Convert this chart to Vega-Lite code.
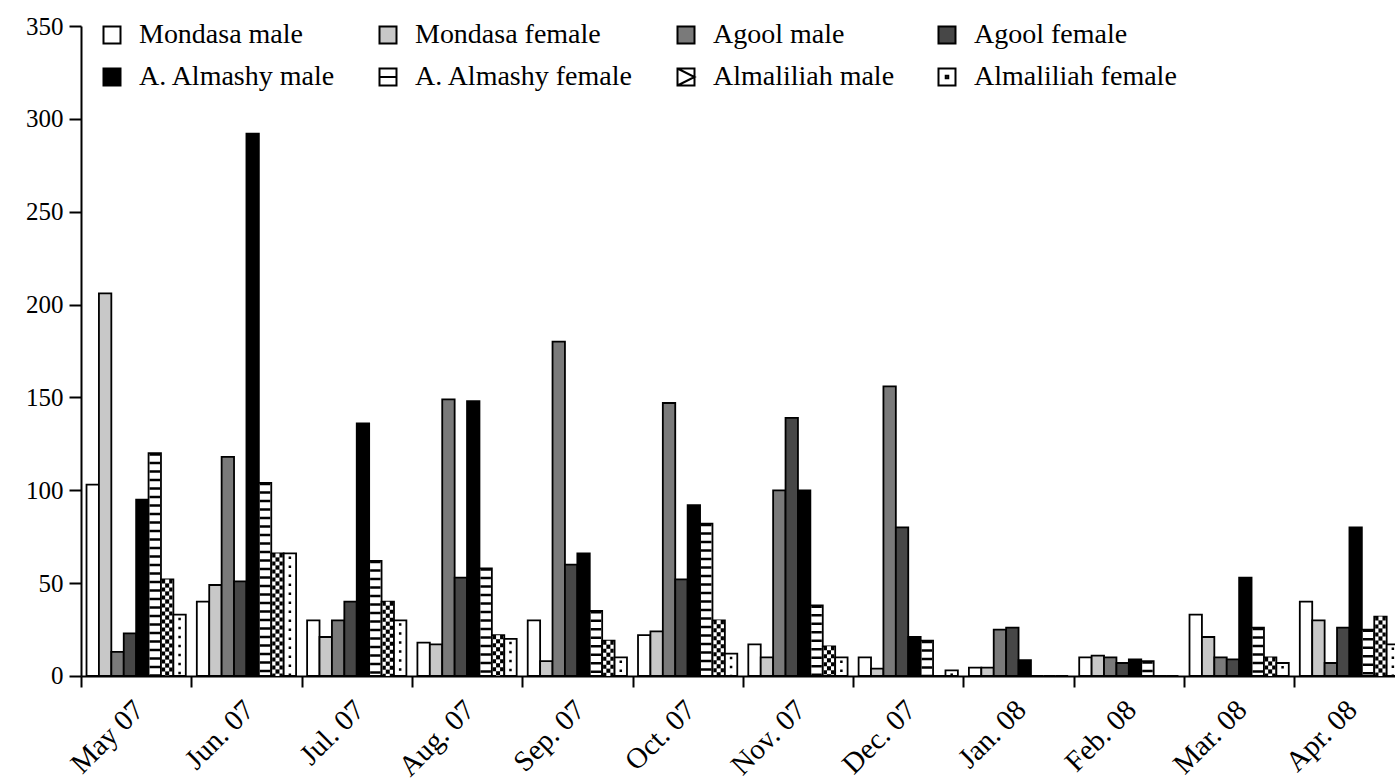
{
  "$schema": "https://vega.github.io/schema/vega-lite/v6.json",
  "width": 1323.6,
  "height": 650,
  "autosize": {"type": "none"},
  "padding": {"left": 81, "top": 26, "right": 0, "bottom": 105},
  "background": "white",
  "config": {"view": {"stroke": null}, "font": "Liberation Serif"},
  "data": {"values": [
    {"month": "May 07", "series": "Mondasa male", "value": 103},
    {"month": "May 07", "series": "Mondasa female", "value": 206},
    {"month": "May 07", "series": "Agool male", "value": 13},
    {"month": "May 07", "series": "Agool female", "value": 23},
    {"month": "May 07", "series": "A. Almashy male", "value": 95},
    {"month": "May 07", "series": "A. Almashy female", "value": 120},
    {"month": "May 07", "series": "Almaliliah male", "value": 52},
    {"month": "May 07", "series": "Almaliliah female", "value": 33},
    {"month": "Jun. 07", "series": "Mondasa male", "value": 40},
    {"month": "Jun. 07", "series": "Mondasa female", "value": 49},
    {"month": "Jun. 07", "series": "Agool male", "value": 118},
    {"month": "Jun. 07", "series": "Agool female", "value": 51},
    {"month": "Jun. 07", "series": "A. Almashy male", "value": 292},
    {"month": "Jun. 07", "series": "A. Almashy female", "value": 104},
    {"month": "Jun. 07", "series": "Almaliliah male", "value": 66},
    {"month": "Jun. 07", "series": "Almaliliah female", "value": 66},
    {"month": "Jul. 07", "series": "Mondasa male", "value": 30},
    {"month": "Jul. 07", "series": "Mondasa female", "value": 21},
    {"month": "Jul. 07", "series": "Agool male", "value": 30},
    {"month": "Jul. 07", "series": "Agool female", "value": 40},
    {"month": "Jul. 07", "series": "A. Almashy male", "value": 136},
    {"month": "Jul. 07", "series": "A. Almashy female", "value": 62},
    {"month": "Jul. 07", "series": "Almaliliah male", "value": 40},
    {"month": "Jul. 07", "series": "Almaliliah female", "value": 30},
    {"month": "Aug. 07", "series": "Mondasa male", "value": 18},
    {"month": "Aug. 07", "series": "Mondasa female", "value": 17},
    {"month": "Aug. 07", "series": "Agool male", "value": 149},
    {"month": "Aug. 07", "series": "Agool female", "value": 53},
    {"month": "Aug. 07", "series": "A. Almashy male", "value": 148},
    {"month": "Aug. 07", "series": "A. Almashy female", "value": 58},
    {"month": "Aug. 07", "series": "Almaliliah male", "value": 22},
    {"month": "Aug. 07", "series": "Almaliliah female", "value": 20},
    {"month": "Sep. 07", "series": "Mondasa male", "value": 30},
    {"month": "Sep. 07", "series": "Mondasa female", "value": 8},
    {"month": "Sep. 07", "series": "Agool male", "value": 180},
    {"month": "Sep. 07", "series": "Agool female", "value": 60},
    {"month": "Sep. 07", "series": "A. Almashy male", "value": 66},
    {"month": "Sep. 07", "series": "A. Almashy female", "value": 35},
    {"month": "Sep. 07", "series": "Almaliliah male", "value": 19},
    {"month": "Sep. 07", "series": "Almaliliah female", "value": 10},
    {"month": "Oct. 07", "series": "Mondasa male", "value": 22},
    {"month": "Oct. 07", "series": "Mondasa female", "value": 24},
    {"month": "Oct. 07", "series": "Agool male", "value": 147},
    {"month": "Oct. 07", "series": "Agool female", "value": 52},
    {"month": "Oct. 07", "series": "A. Almashy male", "value": 92},
    {"month": "Oct. 07", "series": "A. Almashy female", "value": 82},
    {"month": "Oct. 07", "series": "Almaliliah male", "value": 30},
    {"month": "Oct. 07", "series": "Almaliliah female", "value": 12},
    {"month": "Nov. 07", "series": "Mondasa male", "value": 17},
    {"month": "Nov. 07", "series": "Mondasa female", "value": 10},
    {"month": "Nov. 07", "series": "Agool male", "value": 100},
    {"month": "Nov. 07", "series": "Agool female", "value": 139},
    {"month": "Nov. 07", "series": "A. Almashy male", "value": 100},
    {"month": "Nov. 07", "series": "A. Almashy female", "value": 38},
    {"month": "Nov. 07", "series": "Almaliliah male", "value": 16},
    {"month": "Nov. 07", "series": "Almaliliah female", "value": 10},
    {"month": "Dec. 07", "series": "Mondasa male", "value": 10},
    {"month": "Dec. 07", "series": "Mondasa female", "value": 4},
    {"month": "Dec. 07", "series": "Agool male", "value": 156},
    {"month": "Dec. 07", "series": "Agool female", "value": 80},
    {"month": "Dec. 07", "series": "A. Almashy male", "value": 21},
    {"month": "Dec. 07", "series": "A. Almashy female", "value": 19},
    {"month": "Dec. 07", "series": "Almaliliah male", "value": 0},
    {"month": "Dec. 07", "series": "Almaliliah female", "value": 3},
    {"month": "Jan. 08", "series": "Mondasa male", "value": 4.5},
    {"month": "Jan. 08", "series": "Mondasa female", "value": 4.5},
    {"month": "Jan. 08", "series": "Agool male", "value": 25},
    {"month": "Jan. 08", "series": "Agool female", "value": 26},
    {"month": "Jan. 08", "series": "A. Almashy male", "value": 8.5},
    {"month": "Jan. 08", "series": "A. Almashy female", "value": 0},
    {"month": "Jan. 08", "series": "Almaliliah male", "value": 0},
    {"month": "Jan. 08", "series": "Almaliliah female", "value": 0},
    {"month": "Feb. 08", "series": "Mondasa male", "value": 10},
    {"month": "Feb. 08", "series": "Mondasa female", "value": 11},
    {"month": "Feb. 08", "series": "Agool male", "value": 10},
    {"month": "Feb. 08", "series": "Agool female", "value": 7},
    {"month": "Feb. 08", "series": "A. Almashy male", "value": 9},
    {"month": "Feb. 08", "series": "A. Almashy female", "value": 8},
    {"month": "Feb. 08", "series": "Almaliliah male", "value": 0},
    {"month": "Feb. 08", "series": "Almaliliah female", "value": 0},
    {"month": "Mar. 08", "series": "Mondasa male", "value": 33},
    {"month": "Mar. 08", "series": "Mondasa female", "value": 21},
    {"month": "Mar. 08", "series": "Agool male", "value": 10},
    {"month": "Mar. 08", "series": "Agool female", "value": 9},
    {"month": "Mar. 08", "series": "A. Almashy male", "value": 53},
    {"month": "Mar. 08", "series": "A. Almashy female", "value": 26},
    {"month": "Mar. 08", "series": "Almaliliah male", "value": 10},
    {"month": "Mar. 08", "series": "Almaliliah female", "value": 7},
    {"month": "Apr. 08", "series": "Mondasa male", "value": 40},
    {"month": "Apr. 08", "series": "Mondasa female", "value": 30},
    {"month": "Apr. 08", "series": "Agool male", "value": 7},
    {"month": "Apr. 08", "series": "Agool female", "value": 26},
    {"month": "Apr. 08", "series": "A. Almashy male", "value": 80},
    {"month": "Apr. 08", "series": "A. Almashy female", "value": 25},
    {"month": "Apr. 08", "series": "Almaliliah male", "value": 32},
    {"month": "Apr. 08", "series": "Almaliliah female", "value": 17}
  ]},
  "encoding": {
    "x": {
      "field": "month", "type": "nominal",
      "sort": ["May 07", "Jun. 07", "Jul. 07", "Aug. 07", "Sep. 07", "Oct. 07", "Nov. 07", "Dec. 07", "Jan. 08", "Feb. 08", "Mar. 08", "Apr. 08"],
      "scale": {"paddingInner": 0.1, "paddingOuter": 0.05},
      "axis": {
        "title": null, "labelAngle": -45, "labelFontSize": 29, "labelFont": "Liberation Serif",
        "labelColor": "black", "domainColor": "black", "domainWidth": 2,
        "tickColor": "black", "tickWidth": 2, "tickSize": 11,
        "bandPosition": 0, "tickOffset": -5.5, "labelOffset": -2,
        "labelAlign": "right", "labelBaseline": "top", "labelPadding": 8, "labelLimit": 300
      }
    },
    "xOffset": {
      "field": "series", "type": "nominal",
      "scale": {"domain": ["Mondasa male", "Mondasa female", "Agool male", "Agool female", "A. Almashy male", "A. Almashy female", "Almaliliah male", "Almaliliah female"]}
    },
    "y": {
      "field": "value", "type": "quantitative",
      "scale": {"domain": [0, 350], "nice": false},
      "axis": {
        "title": null, "values": [0, 50, 100, 150, 200, 250, 300, 350],
        "labelFontSize": 25, "labelFont": "Liberation Serif", "labelColor": "black",
        "domainColor": "black", "domainWidth": 2, "tickColor": "black", "tickWidth": 2,
        "tickSize": 12, "labelPadding": 6, "grid": false
      }
    }
  },
  "layer": [
    {
      "mark": {"type": "bar", "stroke": "black", "strokeWidth": 1.8},
      "encoding": {
        "fill": {
          "field": "series", "type": "nominal",
          "scale": {
            "domain": ["Mondasa male", "Mondasa female", "Agool male", "Agool female", "A. Almashy male", "A. Almashy female", "Almaliliah male", "Almaliliah female"],
            "range": ["white", "#c8c8c8", "#7a7a7a", "#474747", "black", "white", "white", "white"]
          },
          "legend": {
            "title": null, "orient": "none", "legendX": 17, "legendY": -5,
            "columns": 4, "direction": "horizontal", "symbolType": "square", "symbolSize": 289,
            "symbolStrokeColor": "black", "symbolStrokeWidth": 2, "symbolOpacity": 1,
            "labelFontSize": 28, "labelFont": "Liberation Serif", "labelColor": "black",
            "labelOffset": 13, "columnPadding": 38, "rowPadding": 14, "padding": 0,
            "labelLimit": 400, "gridAlign": "each",
            "encode": {
              "symbols": {
                "update": {
                  "stroke": {"value": "black"},
                  "strokeWidth": {"value": 2},
                  "opacity": {"value": 1},
                  "shape": {"signal": "datum.value === 'A. Almashy female' ? 'M-1,-1H1V1H-1Z M-1,0H1' : datum.value === 'Almaliliah male' ? 'M-1,-1H1V1H-1Z M-1,-1L1,0L-1,1' : datum.value === 'Almaliliah female' ? 'M-1,-1H1V1H-1Z M-0.15,-0.15H0.15V0.15H-0.15Z' : 'square'"}
                }
              }
            }
          }
        }
      }
    },
    {
      "transform": [{"filter": "datum.series === 'A. Almashy female' && datum.value > 0"}],
      "mark": {"type": "rule", "color": "black", "strokeWidth": 10.5, "strokeDash": [2.5, 6], "strokeCap": "butt"},
      "encoding": {"y2": {"datum": 0}}
    },
    {
      "transform": [{"filter": "datum.series === 'Almaliliah female' && datum.value > 0"}],
      "mark": {"type": "rule", "color": "black", "strokeWidth": 2.5, "strokeDash": [2.5, 6.5], "strokeDashOffset": -3, "strokeCap": "butt"},
      "encoding": {"y2": {"datum": 0}}
    },
    {
      "transform": [{"filter": "datum.series === 'Almaliliah male' && datum.value > 0"}],
      "mark": {"type": "rule", "color": "black", "strokeWidth": 10.5, "strokeDash": [4, 4], "strokeCap": "butt"},
      "encoding": {"y2": {"datum": 0}}
    },
    {
      "transform": [{"filter": "datum.series === 'Almaliliah male' && datum.value > 0"}],
      "mark": {"type": "rule", "color": "white", "strokeWidth": 4, "strokeDash": [4, 4], "strokeCap": "butt"},
      "encoding": {"y2": {"datum": 0}}
    },
    {
      "transform": [{"filter": "datum.series === 'Almaliliah male' && datum.value > 0"}],
      "mark": {"type": "rule", "color": "black", "strokeWidth": 4, "strokeDash": [4, 4], "strokeDashOffset": 4, "strokeCap": "butt"},
      "encoding": {"y2": {"datum": 0}}
    }
  ]
}
